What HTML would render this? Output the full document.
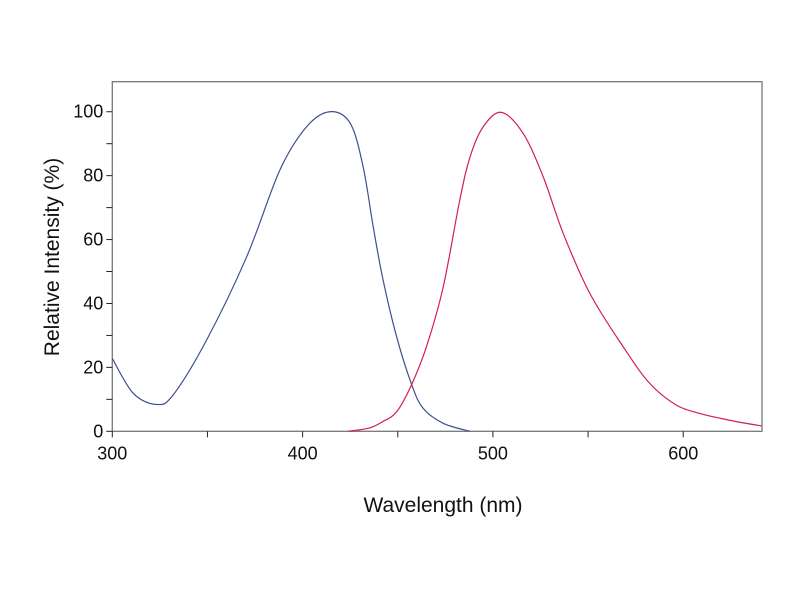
<!DOCTYPE html>
<html><head><meta charset="utf-8"><style>
html,body{margin:0;padding:0;background:#fff;}
svg text{font-family:"Liberation Sans",sans-serif;fill:#111;}
</style></head><body>
<svg id="chart" width="800" height="600" viewBox="0 0 800 600" xmlns="http://www.w3.org/2000/svg">
<g id="axes"></g>
<g id="series"></g>
<text x="443" y="512" font-size="21" text-anchor="middle">Wavelength (nm)</text>
<text transform="translate(59,257) rotate(-90)" font-size="21" text-anchor="middle">Relative Intensity (%)</text>
</svg>
<script>
const xTicks = [300, 350, 400, 450, 500, 550, 600];
const xTickLabels = ["300", "", "400", "", "500", "", "600"];
const yTicks = [0, 10, 20, 30, 40, 50, 60, 70, 80, 90, 100];
const yTickLabels = ["0", "", "20", "", "40", "", "60", "", "80", "", "100"];
const excitationNm = [300, 311, 323.3, 332, 349.6, 370.6, 388.1, 402.1, 414.3, 425, 431.8, 437.1, 442.3, 449.4, 457.2, 463.3, 473.9, 487.9];
const excitationVal = [22.8, 11.9, 8.4, 11.4, 28.6, 54.6, 81.8, 95.3, 100, 96.4, 82.8, 64, 47.3, 29.6, 14.8, 7.2, 2.5, 0];
const emissionNm = [424, 435, 442, 449.4, 457.2, 465.1, 473.9, 482.6, 488, 494.9, 504.5, 515.9, 526.4, 536.9, 550.9, 568.4, 582.4, 596.4, 608.7, 620, 630, 641.1];
const emissionVal = [0, 1, 3, 6.1, 14.5, 26.5, 45.2, 72.4, 85.9, 95.3, 99.8, 93.2, 79.7, 62, 43.2, 26.5, 15, 8.2, 5.6, 4, 2.8, 1.7];

const X0 = 112.3, XR = 762, YB = 431.3, YT = 81.7;
const xMin = 300, xMax = 641.4, yMin = 0, yMax = 109.4;
const sx = v => X0 + (v - xMin) / (xMax - xMin) * (XR - X0);
const sy = v => YB - (v - yMin) / (yMax - yMin) * (YB - YT);
const NS = "http://www.w3.org/2000/svg";
const axes = document.getElementById('axes');
const series = document.getElementById('series');

const frame = document.createElementNS(NS, 'rect');


frame.setAttribute('x', X0); frame.setAttribute('y', YT);
frame.setAttribute('width', XR - X0); frame.setAttribute('height', YB - YT);
frame.setAttribute('fill', 'none'); frame.setAttribute('stroke', '#777'); frame.setAttribute('stroke-width', '1.3');
axes.appendChild(frame);

xTicks.forEach((t, i) => {
  const l = document.createElementNS(NS, 'line');
  
  
  l.setAttribute('x1', sx(t)); l.setAttribute('x2', sx(t));
  l.setAttribute('y1', YB); l.setAttribute('y2', YB + 6);
  l.setAttribute('stroke', '#222'); l.setAttribute('stroke-width', '1');
  axes.appendChild(l);
  if (xTickLabels[i]) {
    const tx = document.createElementNS(NS, 'text');
    
    
    tx.setAttribute('x', sx(t)); tx.setAttribute('y', YB + 28);
    tx.setAttribute('font-size', '18'); tx.setAttribute('text-anchor', 'middle');
    tx.textContent = xTickLabels[i];
    axes.appendChild(tx);
  }
});
yTicks.forEach((t, i) => {
  const l = document.createElementNS(NS, 'line');
  
  
  l.setAttribute('x1', X0 - 6); l.setAttribute('x2', X0);
  l.setAttribute('y1', sy(t)); l.setAttribute('y2', sy(t));
  l.setAttribute('stroke', '#222'); l.setAttribute('stroke-width', '1');
  axes.appendChild(l);
  if (yTickLabels[i]) {
    const tx = document.createElementNS(NS, 'text');
    
    
    tx.setAttribute('x', X0 - 9); tx.setAttribute('y', sy(t) + 6);
    tx.setAttribute('font-size', '18'); tx.setAttribute('text-anchor', 'end');
    tx.textContent = yTickLabels[i];
    axes.appendChild(tx);
  }
});

function smoothPath(xs, ys) {
  const p = xs.map((x, i) => [sx(x), sy(ys[i])]);
  let d = 'M' + p[0][0] + ',' + p[0][1];
  for (let i = 0; i < p.length - 1; i++) {
    const p0 = p[i - 1] || p[i], p1 = p[i], p2 = p[i + 1], p3 = p[i + 2] || p2;
    const c1 = [p1[0] + (p2[0] - p0[0]) / 6, p1[1] + (p2[1] - p0[1]) / 6];
    const c2 = [p2[0] - (p3[0] - p1[0]) / 6, p2[1] - (p3[1] - p1[1]) / 6];
    d += 'C' + c1 + ' ' + c2 + ' ' + p2;
  }
  return d;
}
const ex = document.createElementNS(NS, 'path');


ex.setAttribute('d', smoothPath(excitationNm, excitationVal));
ex.setAttribute('fill', 'none'); ex.setAttribute('stroke', '#3f4f8f'); ex.setAttribute('stroke-width', '1.2');
series.appendChild(ex);
const em = document.createElementNS(NS, 'path');


em.setAttribute('d', smoothPath(emissionNm, emissionVal));
em.setAttribute('fill', 'none'); em.setAttribute('stroke', '#d0204f'); em.setAttribute('stroke-width', '1.2');
series.appendChild(em);
</script>
</body></html>
